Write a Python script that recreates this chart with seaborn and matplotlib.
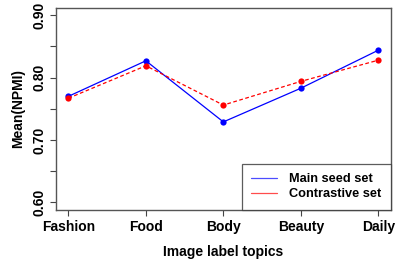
import pandas as pd
import matplotlib.pyplot as plt
import seaborn as sns
from matplotlib.lines import Line2D

topics = ['Fashion', 'Food', 'Body', 'Beauty', 'Daily']
main_seed = [0.770, 0.827, 0.729, 0.783, 0.844]
contrastive = [0.767, 0.819, 0.756, 0.794, 0.828]

df = pd.DataFrame({
    'Topic': topics * 2,
    'Mean': main_seed + contrastive,
    'Set': ['Main seed set'] * 5 + ['Contrastive set'] * 5,
})
df['pos'] = df['Topic'].map({t: i for i, t in enumerate(topics)})

sns.set_theme(style="ticks")
plt.rcParams['font.family'] = ['Liberation Sans', 'DejaVu Sans']
plt.rcParams['font.weight'] = 'bold'
plt.rcParams['text.color'] = 'black'
plt.rcParams['axes.labelcolor'] = 'black'
plt.rcParams['xtick.labelcolor'] = 'black'
plt.rcParams['ytick.labelcolor'] = 'black'

fig = plt.figure(figsize=(3.99, 2.66), dpi=100)
ax = fig.add_axes([56 / 399, 1 - 210 / 266, (390.7 - 56) / 399, (210 - 8) / 266])

palette = {'Main seed set': 'blue', 'Contrastive set': 'red'}
sns.lineplot(data=df, x='pos', y='Mean', hue='Set', style='Set', palette=palette,
             dashes={'Main seed set': '', 'Contrastive set': (3, 2)},
             markers={'Main seed set': 'o', 'Contrastive set': 'o'},
             markersize=4.5, markeredgewidth=0, linewidth=0.9, ax=ax, legend=False)

ax.set_xlim(-0.16, 4.16)
ax.set_ylim(0.5877, 0.9117)
ax.set_xticks(range(len(topics)))
ax.set_xticklabels(topics, fontsize=10, fontweight='bold')
ax.set_yticks([0.60, 0.65, 0.70, 0.75, 0.80, 0.85, 0.90])
ax.set_yticklabels(['0.60', '', '0.70', '', '0.80', '', '0.90'],
                   fontsize=10, fontweight='bold', rotation=90, va='center')
ax.set_xlabel('Image label topics', fontsize=10, fontweight='bold', labelpad=8)
ax.set_ylabel('Mean(NPMI)', fontsize=10, fontweight='bold', labelpad=5)
ax.tick_params(axis='both', length=4, width=0.8, color='#444444', pad=3)
for s in ax.spines.values():
    s.set_color('#555555')
    s.set_linewidth(1.0)

handles = [Line2D([], [], color='blue', lw=0.9, alpha=0.7),
           Line2D([], [], color='red', lw=0.9, alpha=0.7)]
leg = ax.legend(handles, ['Main seed set', 'Contrastive set'], loc='lower right',
                fontsize=9.2, frameon=True, fancybox=False, borderaxespad=0,
                handlelength=2.0, borderpad=0.75, labelspacing=0.25, handletextpad=0.95)
leg.get_frame().set_edgecolor('#333333')
leg.get_frame().set_linewidth(0.9)
for t in leg.get_texts():
    t.set_fontweight('bold')

fig.savefig('out.png', dpi=100)
